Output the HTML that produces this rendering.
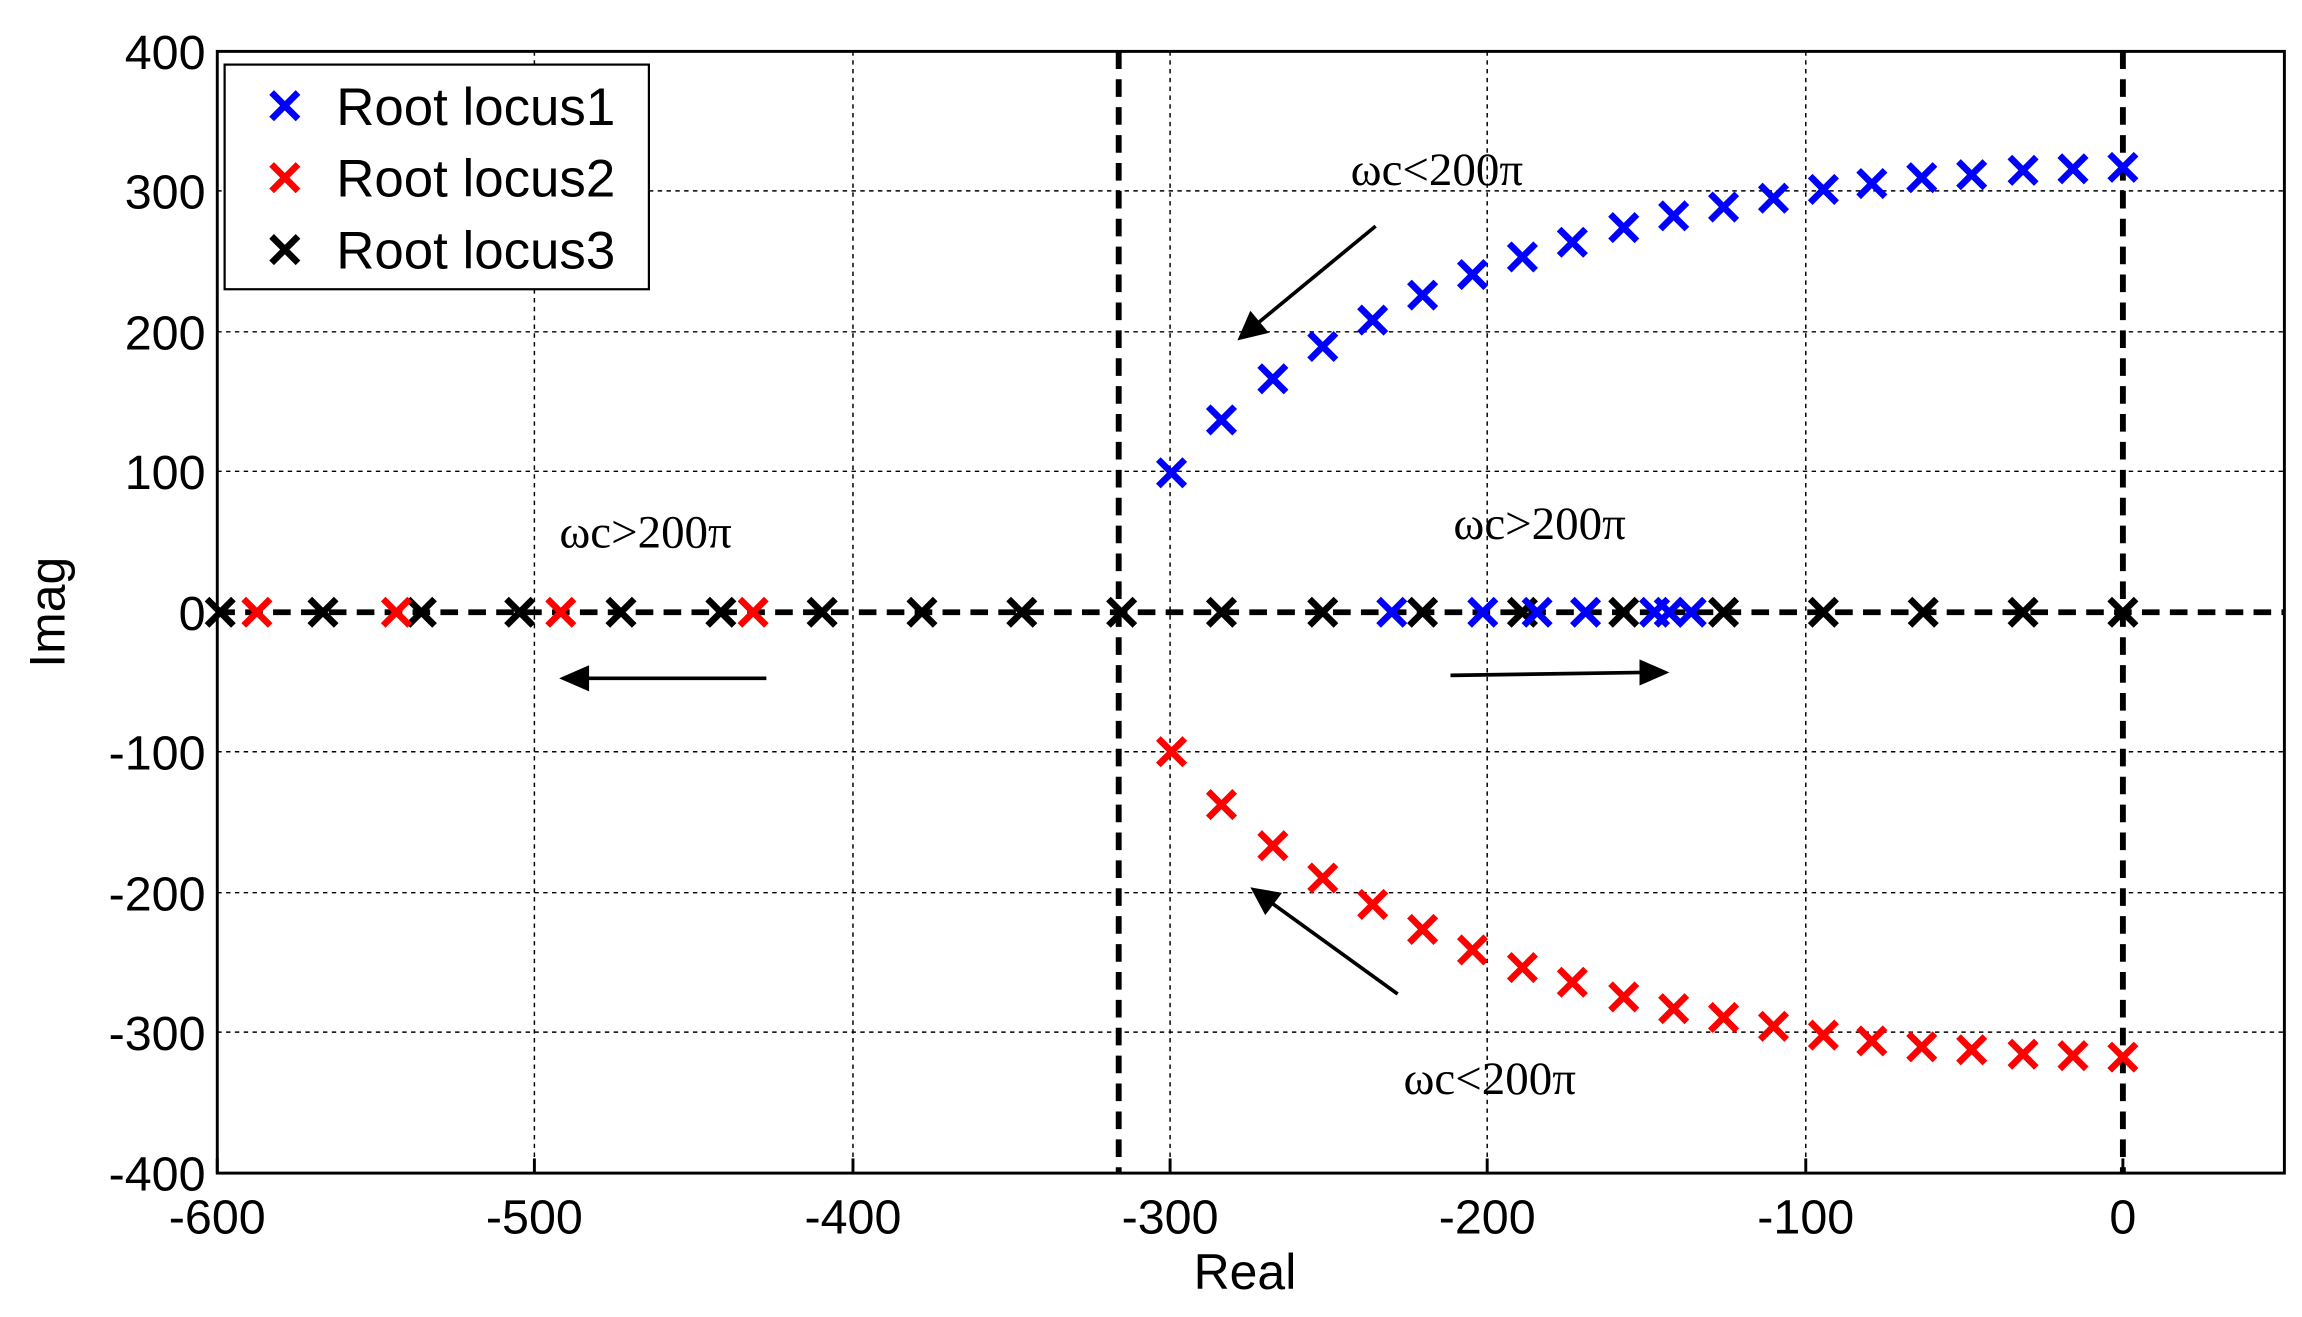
<!DOCTYPE html>
<html><head><style>html,body{margin:0;padding:0;background:#fff}svg{display:block}</style></head>
<body>
<svg width="2302" height="1317" viewBox="0 0 1568 897" preserveAspectRatio="none" xmlns="http://www.w3.org/2000/svg">
<defs>
<g id="xb"><path d="M-9,-9L9,9M-9,9L9,-9" stroke="#00f" stroke-width="4.5"/></g>
<g id="xr"><path d="M-9,-9L9,9M-9,9L9,-9" stroke="#f00" stroke-width="4.5"/></g>
<g id="xk"><path d="M-9,-9L9,9M-9,9L9,-9" stroke="#000" stroke-width="4.5"/></g>
</defs>
<rect width="1568" height="897" fill="#fff"/>
<g stroke="#000" stroke-width="1" stroke-dasharray="3,3">
<line x1="364" y1="35" x2="364" y2="799"/><line x1="581" y1="35" x2="581" y2="799"/>
<line x1="797" y1="35" x2="797" y2="799"/><line x1="1013" y1="35" x2="1013" y2="799"/>
<line x1="1230" y1="35" x2="1230" y2="799"/>
<line x1="148" y1="130" x2="1556" y2="130"/><line x1="148" y1="226" x2="1556" y2="226"/>
<line x1="148" y1="321" x2="1556" y2="321"/><line x1="148" y1="512" x2="1556" y2="512"/>
<line x1="148" y1="608" x2="1556" y2="608"/><line x1="148" y1="703" x2="1556" y2="703"/>
</g>
<rect x="148" y="35" width="1408" height="764" fill="none" stroke="#000" stroke-width="2"/>
<g stroke="#000" stroke-width="2">
<line x1="148" y1="799" x2="148" y2="789"/><line x1="364" y1="799" x2="364" y2="789"/><line x1="581" y1="799" x2="581" y2="789"/><line x1="797" y1="799" x2="797" y2="789"/><line x1="1013" y1="799" x2="1013" y2="789"/><line x1="1230" y1="799" x2="1230" y2="789"/><line x1="1446" y1="799" x2="1446" y2="789"/>
</g>
<g font-family="Liberation Sans, sans-serif" font-size="33" fill="#000">
<g text-anchor="middle">
<text x="148" y="840">-600</text><text x="364" y="840">-500</text><text x="581" y="840">-400</text><text x="797" y="840">-300</text><text x="1013" y="840">-200</text><text x="1230" y="840">-100</text><text x="1446" y="840">0</text>
<text x="848" y="878" font-size="34">Real</text>
</g>
<g text-anchor="end">
<text x="140" y="47">400</text><text x="140" y="142">300</text><text x="140" y="238">200</text><text x="140" y="333">100</text><text x="140" y="429">0</text><text x="140" y="524">-100</text><text x="140" y="620">-200</text><text x="140" y="715">-300</text><text x="140" y="811">-400</text>
</g>
<text transform="translate(44,417) rotate(-90)" text-anchor="middle" font-size="34">Imag</text>
</g>
<g stroke="#000" stroke-width="4" stroke-dasharray="12,7" fill="none">
<line x1="762" y1="35" x2="762" y2="799"/><line x1="1446" y1="35" x2="1446" y2="799"/>
<line x1="148" y1="417" x2="1556" y2="417"/>
</g>
<g>
<use href="#xk" x="150" y="417"/><use href="#xk" x="220" y="417"/><use href="#xk" x="287" y="417"/><use href="#xk" x="354" y="417"/><use href="#xk" x="423" y="417"/><use href="#xk" x="491" y="417"/><use href="#xk" x="560" y="417"/><use href="#xk" x="628" y="417"/><use href="#xk" x="696" y="417"/><use href="#xk" x="764" y="417"/><use href="#xk" x="832" y="417"/><use href="#xk" x="901" y="417"/><use href="#xk" x="969" y="417"/><use href="#xk" x="1037" y="417"/><use href="#xk" x="1106" y="417"/><use href="#xk" x="1174" y="417"/><use href="#xk" x="1242" y="417"/><use href="#xk" x="1310" y="417"/><use href="#xk" x="1378" y="417"/><use href="#xk" x="1446" y="417"/>
<use href="#xr" x="175" y="417"/><use href="#xr" x="270" y="417"/><use href="#xr" x="382" y="417"/><use href="#xr" x="513" y="417"/>
<use href="#xb" x="948" y="417"/><use href="#xb" x="1010" y="417"/><use href="#xb" x="1047" y="417"/><use href="#xb" x="1080" y="417"/><use href="#xb" x="1127" y="417"/><use href="#xb" x="1137" y="417"/><use href="#xb" x="1152" y="417"/>
</g>
<g>
<use href="#xb" x="798" y="322"/><use href="#xb" x="832" y="286"/><use href="#xb" x="867" y="258"/><use href="#xb" x="901" y="236"/><use href="#xb" x="935" y="218"/><use href="#xb" x="969" y="201"/><use href="#xb" x="1003" y="187"/><use href="#xb" x="1037" y="175"/><use href="#xb" x="1071" y="165"/><use href="#xb" x="1106" y="155"/><use href="#xb" x="1140" y="147"/><use href="#xb" x="1174" y="141"/><use href="#xb" x="1208" y="135"/><use href="#xb" x="1242" y="129"/><use href="#xb" x="1275" y="125"/><use href="#xb" x="1309" y="121"/><use href="#xb" x="1343" y="119"/><use href="#xb" x="1378" y="116"/><use href="#xb" x="1412" y="115"/><use href="#xb" x="1446" y="114"/>
<use href="#xr" x="798" y="512"/><use href="#xr" x="832" y="548"/><use href="#xr" x="867" y="576"/><use href="#xr" x="901" y="598"/><use href="#xr" x="935" y="616"/><use href="#xr" x="969" y="633"/><use href="#xr" x="1003" y="647"/><use href="#xr" x="1037" y="659"/><use href="#xr" x="1071" y="669"/><use href="#xr" x="1106" y="679"/><use href="#xr" x="1140" y="687"/><use href="#xr" x="1174" y="693"/><use href="#xr" x="1208" y="699"/><use href="#xr" x="1242" y="705"/><use href="#xr" x="1275" y="709"/><use href="#xr" x="1309" y="713"/><use href="#xr" x="1343" y="715"/><use href="#xr" x="1378" y="718"/><use href="#xr" x="1412" y="719"/><use href="#xr" x="1446" y="720"/>
</g>
<g stroke="#000" stroke-width="2.5" fill="#000">
<line x1="937" y1="154" x2="852" y2="224"/><path d="M845,230L852,214L862,226Z"/>
<line x1="952" y1="677" x2="862" y2="612"/><path d="M854,606L871,609L862,621Z"/>
<line x1="522" y1="462" x2="398" y2="462"/><path d="M384,462L400,455L400,469Z"/>
<line x1="988" y1="460" x2="1120" y2="458"/><path d="M1134,458L1118,451L1118,465Z"/>
</g>
<g font-family="Liberation Serif, serif" font-size="32" fill="#000">
<text x="920" y="126">ωc&lt;200π</text>
<text x="381" y="373">ωc&gt;200π</text>
<text x="990" y="367">ωc&gt;200π</text>
<text x="956" y="745">ωc&lt;200π</text>
</g>
<rect x="153" y="44" width="289" height="153" fill="#fff" stroke="#000" stroke-width="1.5"/>
<use href="#xb" x="194" y="72"/><use href="#xr" x="194" y="121"/><use href="#xk" x="194" y="170"/>
<g font-family="Liberation Sans, sans-serif" font-size="36" fill="#000">
<text x="229" y="85">Root locus1</text><text x="229" y="134">Root locus2</text><text x="229" y="183">Root locus3</text>
</g>
</svg>
</body></html>
